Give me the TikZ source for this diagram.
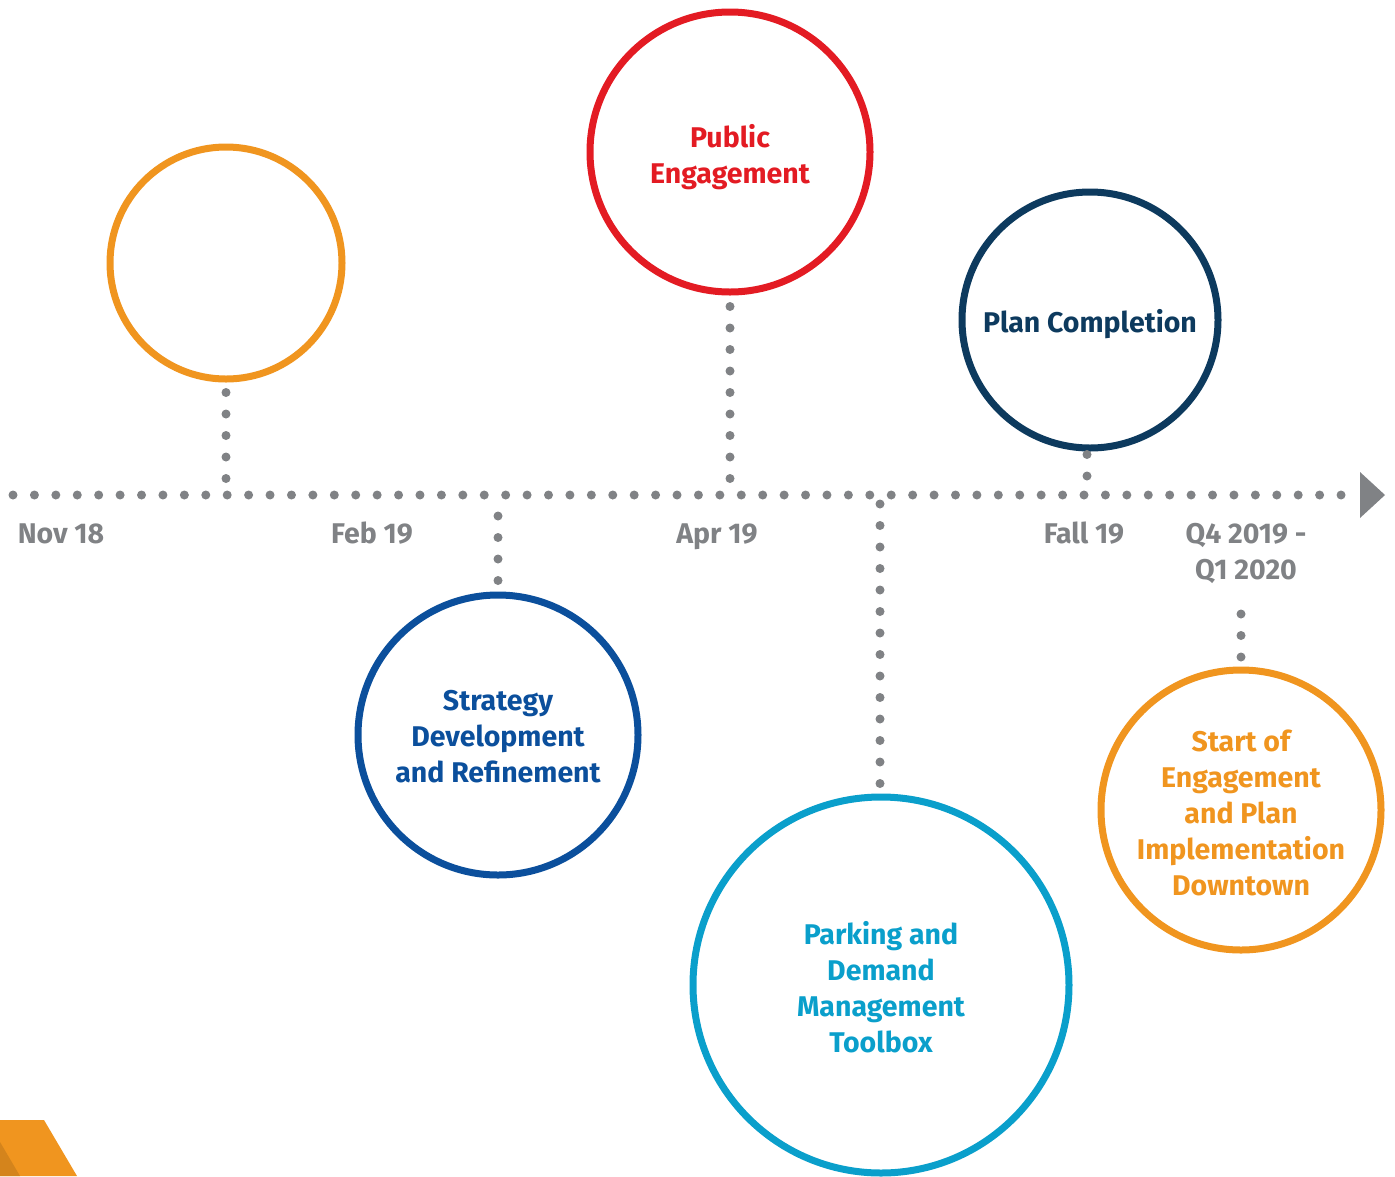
\documentclass[tikz,border=0pt]{standalone}
\usepackage{fontspec}
\setmainfont{Fira Sans}
\definecolor{cOrange}{HTML}{F0951F}
\definecolor{cOrangeDark}{HTML}{D4841C}
\definecolor{cRed}{HTML}{E31B23}
\definecolor{cNavy}{HTML}{0D3A5E}
\definecolor{cBlue}{HTML}{0B4F9C}
\definecolor{cCyan}{HTML}{0A9FCB}
\definecolor{cGray}{HTML}{808285}
\begin{document}
\begin{tikzpicture}[x=1pt,y=-1pt,
  ring/.style={circle,draw=#1,line width=7pt,inner sep=0pt},
  ringtext/.style={text=#1,align=center,inner sep=0pt,
    font=\fontsize{28.5}{36}\selectfont\bfseries},
  dotline/.style={draw=cGray,line width=9pt,line cap=round,dash pattern=on 0pt off 21.5pt},
  datelbl/.style={text=cGray,align=center,inner sep=0pt,anchor=base,
    font=\fontsize{28.5}{36}\selectfont\bfseries}]
\useasboundingbox (0,0) rectangle (1395,1176);
% circles
\node[ring=cOrange,minimum size=232pt] (c1) at (226,263) {};
\node[ring=cRed,minimum size=280pt,
  label={[name=t2,ringtext=cRed,yshift=-5pt]center:{Public\\Engagement}}] (c2) at (730,152) {};
\node[ring=cNavy,minimum size=256pt,
  label={[name=t3,ringtext=cNavy,yshift=-4pt]center:{Plan Completion}}] (c3) at (1090,320) {};
\node[ring=cBlue,minimum size=280pt,
  label={[name=t4,ringtext=cBlue,yshift=-2pt]center:{Strategy\\Development\\and Refinement}}] (c4) at (498,735) {};
\node[ring=cCyan,minimum size=376pt,
  label={[name=t5,ringtext=cCyan,yshift=-2pt]center:{Parking and\\Demand\\Management\\Toolbox}}] (c5) at (881,985) {};
\node[ring=cOrange,minimum size=280pt,
  label={[name=t6,ringtext=cOrange,yshift=-3pt]center:{Start of\\Engagement\\and Plan\\Implementation\\Downtown}}] (c6) at (1241,810) {};
% timeline
\coordinate (tlstart) at (13,495);
\coordinate (tlend) at (1346,495);
\coordinate (tip) at (1360,495);
\draw[dotline,dash pattern=on 0pt off 21.42pt] (tlstart) -- (tlend);
\fill[cGray] ([yshift=23pt]tip) -- ([xshift=25pt]tip) -- ([yshift=-23pt]tip) -- cycle;
% connectors
\draw[dotline] ([yshift=-10pt]c1.south) -- (c1.south |- tlstart);
\draw[dotline] ([yshift=-11pt]c2.south) -- (c2.south |- tlstart);
\draw[dotline] ([xshift=-3pt,yshift=-3pt]c3.south) -- ([xshift=-3pt]c3.south |- tlstart);
\draw[dotline] ([yshift=11pt]c4.north) -- (c4.north |- tlstart);
\draw[dotline] ([xshift=-1pt,yshift=10pt]c5.north) -- ([xshift=-1pt]c5.north |- tlstart);
\coordinate (q4end) at (1241,613);
\draw[dotline] ([yshift=9.5pt]c6.north) -- (q4end);
% date labels
\node[datelbl] (d1) at (61,543) {Nov 18};
\node[datelbl] (d2) at (372,543) {Feb 19};
\node[datelbl] (d3) at (717,543) {Apr 19};
\node[datelbl] (d4) at (1084,543) {Fall 19};
\node[datelbl] (d5) at (1246,543) {Q4 2019 -};
\node[datelbl] (d6) at (1246,579) {Q1 2020};
% corner shape
\fill[cOrange] (0,1120) -- (44,1120) -- (77,1176) -- (0,1176) -- cycle;
\fill[cOrangeDark] (0,1142) -- (20,1176) -- (0,1176) -- cycle;
\end{tikzpicture}
\end{document}
